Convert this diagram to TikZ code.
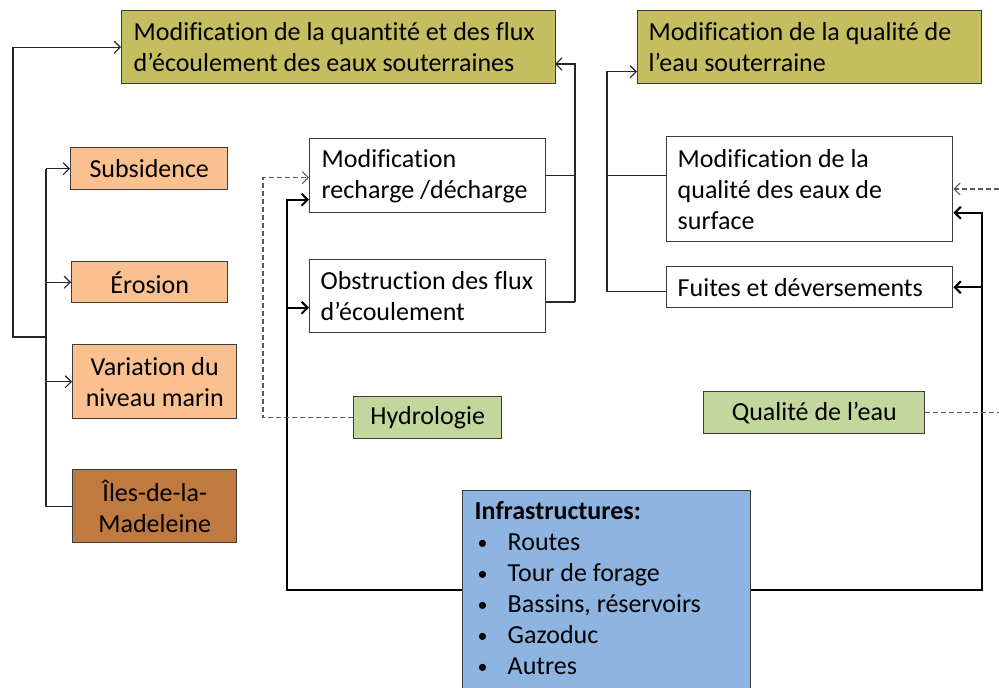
\documentclass[tikz,border=0pt]{standalone}
\usepackage{fontspec}
\setmainfont{Carlito}[Ligatures=NoCommon]
\usetikzlibrary{arrows.meta,calc}
\definecolor{oliveb}{RGB}{196,190,96}
\definecolor{lorange}{RGB}{250,192,144}
\definecolor{brownb}{RGB}{192,122,64}
\definecolor{lgreen}{RGB}{195,214,155}
\definecolor{lblue}{RGB}{142,180,226}
\definecolor{edgec}{RGB}{60,60,60}
\def\upx{0.75pt}
\newcommand\natsp{\spaceskip=0pt\xspaceskip=0pt\relax}
\newcommand\mybul{\makebox[24.75pt][l]{\hspace{2.25pt}\raisebox{1pt}{\fontsize{15}{15}\selectfont\textbullet}}}
\begin{document}
\begin{tikzpicture}[x=0.75pt,y=-0.75pt,
  font=\fontsize{19.5}{23.3}\selectfont,
  box/.style={draw=edgec, line width=1.1pt, rectangle, inner sep=0pt, anchor=north west},
  lbox/.style={box, align=flush left},
  cbox/.style={box, align=center},
  conn/.style={draw=black!85, line width=0.9pt},
  tconn/.style={draw=black, line width=1.5pt},
  dconn/.style={draw=black!65, line width=0.8pt, dash pattern=on 3.5pt off 2.5pt},
  >={Straight Barb[length=4.5pt,width=9pt]}]
\fill[white] (0,0) rectangle (999,687);
\useasboundingbox (0,0) rectangle (999,687);

% top boxes
\node[lbox, fill=oliveb, text width=410*\upx, inner xsep=12*\upx, minimum height=73*\upx] (q1) at (121,10)
  {\natsp\mbox{Modification de la quantité et des flux}\\\mbox{d’écoulement des eaux souterraines}};
\node[lbox, fill=oliveb, text width=322*\upx, inner xsep=11*\upx, minimum height=73*\upx] (q2) at (637,10)
  {\natsp\mbox{Modification de la qualité de}\\\mbox{l’eau souterraine}};

% left column
\node[cbox, fill=lorange, minimum width=157*\upx, minimum height=42*\upx] (subs) at (70,147) {Subsidence};
\node[cbox, fill=lorange, minimum width=156*\upx, minimum height=41*\upx] (eros) at (71,261) {Érosion};
\node[cbox, fill=lorange, minimum width=164*\upx, minimum height=74*\upx] (var) at (72,344) {Variation du\\niveau marin};
\node[cbox, fill=brownb, minimum width=164*\upx, minimum height=73*\upx] (iles) at (72,469) {Îles-de-la-\\Madeleine};

% middle
\node[lbox, fill=white, text width=212*\upx, inner xsep=12*\upx, minimum height=74*\upx] (rech) at (309,138)
  {\natsp\mbox{Modification}\\\mbox{recharge /décharge}};
\node[lbox, fill=white, text width=214*\upx, inner xsep=11*\upx, minimum height=73*\upx] (obst) at (309,259)
  {\natsp\mbox{Obstruction des flux}\\\mbox{d’écoulement}};
\node[cbox, fill=lgreen, minimum width=148*\upx, minimum height=42*\upx] (hydro) at (353,396) {Hydrologie};

% right
\node[lbox, fill=white, text width=264*\upx, inner xsep=11*\upx, minimum height=105*\upx] (surf) at (666,136)
  {\natsp\mbox{Modification de la}\\\mbox{qualité des eaux de}\\\mbox{surface}};
\node[lbox, fill=white, text width=264*\upx, inner xsep=11*\upx, minimum height=41*\upx] (fuit) at (666,266)
  {\natsp\mbox{Fuites et déversements}};
\node[cbox, fill=lgreen, minimum width=221*\upx, minimum height=42*\upx] (qual) at (703,391) {Qualité de l’eau};

% infrastructures
\node[lbox, fill=lblue, text width=264*\upx, inner xsep=12*\upx, inner ysep=11*\upx,
  font=\fontsize{19.5}{23.25}\selectfont] (infra) at (462,490)
  {\natsp\textbf{Infrastructures:}\\
   \mybul Routes\\
   \mybul Tour de forage\\
   \mybul Bassins, réservoirs\\
   \mybul Gazoduc\\
   \mybul Autres\par\vspace*{40pt}\mbox{}};

% coordinates
\coordinate (trk) at (46,0);
\coordinate (lout) at (13,337);
\coordinate (rq) at (575,302);
\coordinate (q1in) at (555,64);
\coordinate (bl) at (287,590);
\coordinate (br) at (982,590);
\coordinate (qe) at (999,412);
\coordinate (se) at (999,189);

% left column connectors
\draw[conn] (iles.west) -| (subs.west -| trk);
\draw[conn,->] (subs.west -| trk) -- (subs.west);
\draw[conn,->] (eros.west -| trk) -- (eros.west);
\draw[conn,->] (var.west -| trk) -- (var.west);
\draw[conn,->] (lout -| trk) -- (lout) |- (q1.west);

% to q1 from the right
\draw[conn] (obst.east |- rq) -- (rq);
\draw[conn] (rech.east) -- (rech.east -| rq);
\draw[conn,->] (rq) |- (q1in);

% to q2
\draw[conn] ($(surf.west)+(0,-13.5)$) -- ++(-59,0);
\draw[conn,->] ($(fuit.west)+(0,4.5)$) -- ++(-59,0) |- ($(q2.west)+(0,24.5)$);

% infrastructure connectors
\draw[tconn,->] (infra.west |- bl) -- (bl) |- ($(rech.west)+(0,24)$);
\draw[tconn,->] ($(obst.west)+(-22,11.5)$) -- ($(obst.west)+(0,11.5)$);
\draw[tconn,->] (infra.east |- br) -- (br) |- ($(surf.east)+(0,23.5)$);
\draw[tconn,->] ($(fuit.east)+(30,0)$) -- (fuit.east);

% dashed
\draw[dconn,->] (hydro.west) -| ($(rech.west)+(-46,2)$) -- ($(rech.west)+(0,2)$);
\draw[dconn] (qual.east) -- (qual.east -| qe);
\draw[dconn,->] (se) -- (se -| surf.east);
\end{tikzpicture}
\end{document}
